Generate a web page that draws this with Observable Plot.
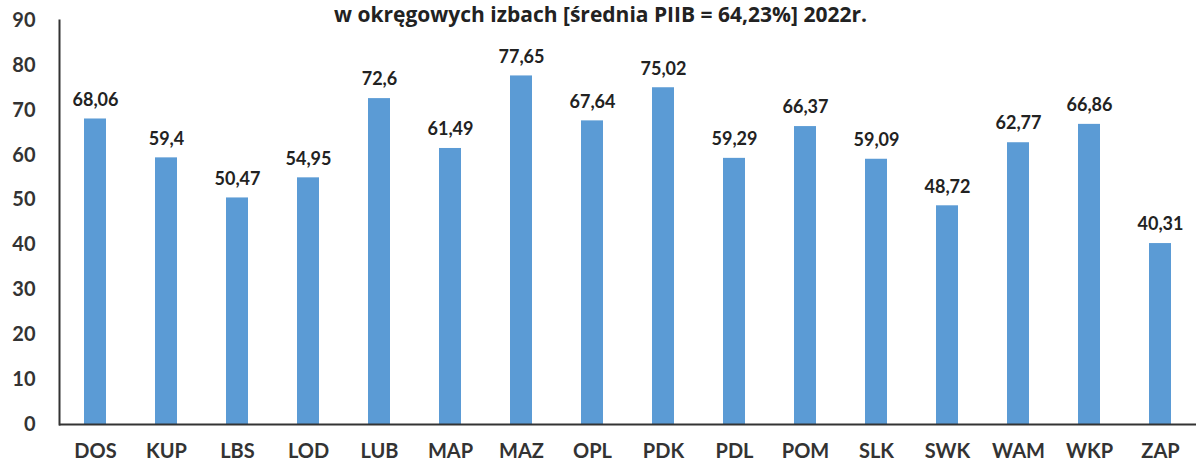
<!DOCTYPE html>
<html>
<head>
<meta charset="utf-8">
<script src="https://cdn.jsdelivr.net/npm/d3@7"></script>
<script src="https://cdn.jsdelivr.net/npm/@observablehq/plot@0.6"></script>
<style>
  html, body { margin: 0; padding: 0; background: #fff; overflow: hidden; }
  #wrap { position: relative; width: 1201px; height: 461px; overflow: hidden; }
  #title { position: absolute; left: 0; width: 1201px; top: 0; text-align: center; line-height: normal;
    font-family: "Open Sans", sans-serif; font-weight: 700; font-size: 21px; color: #222; z-index: 2; }
  svg { font-family: Lato, sans-serif; }
</style>
</head>
<body>
<div id="wrap">
  <div id="title">w okręgowych izbach [średnia PIIB = 64,23%] 2022r.</div>
  <div id="chart"></div>
</div>
<script>
const categories = ["DOS","KUP","LBS","LOD","LUB","MAP","MAZ","OPL","PDK","PDL","POM","SLK","SWK","WAM","WKP","ZAP"];
const values = [68.06, 59.4, 50.47, 54.95, 72.6, 61.49, 77.65, 67.64, 75.02, 59.29, 66.37, 59.09, 48.72, 62.77, 66.86, 40.31];
const valueLabels = ["68,06","59,4","50,47","54,95","72,6","61,49","77,65","67,64","75,02","59,29","66,37","59,09","48,72","62,77","66,86","40,31"];
const yTicks = [0,10,20,30,40,50,60,70,80,90];

const data = categories.map((c, i) => ({cat: c, value: values[i], label: valueLabels[i]}));

const chart = Plot.plot({
  width: 1201,
  height: 461,
  marginLeft: 59,
  marginRight: 5,
  marginTop: 20,
  marginBottom: 37,
  style: {fontFamily: "Lato, sans-serif", background: "#fff"},
  x: {domain: categories, paddingInner: 0.69, paddingOuter: 0.337, label: null},
  y: {domain: [0, 90], label: null},
  marks: [
    Plot.barY(data, {x: "cat", y: "value", fill: "#5B9BD5"}),
    Plot.ruleY([0], {stroke: "#333", strokeWidth: 2}),
    Plot.frame({anchor: "left", stroke: "#333", strokeWidth: 2}),
    Plot.text(data, {x: "cat", y: "value", text: "label", dy: -19, fontSize: 18, fontWeight: 700, fill: "#222"}),
    Plot.axisY(yTicks, {tickSize: 0, tickPadding: 24, fontSize: 20, fontWeight: 700, fill: "#333", label: null}),
    Plot.axisX({tickSize: 0, tickPadding: 19, fontSize: 20, fontWeight: 700, fill: "#333", label: null})
  ]
});
document.getElementById("chart").appendChild(chart);
</script>
</body>
</html>
